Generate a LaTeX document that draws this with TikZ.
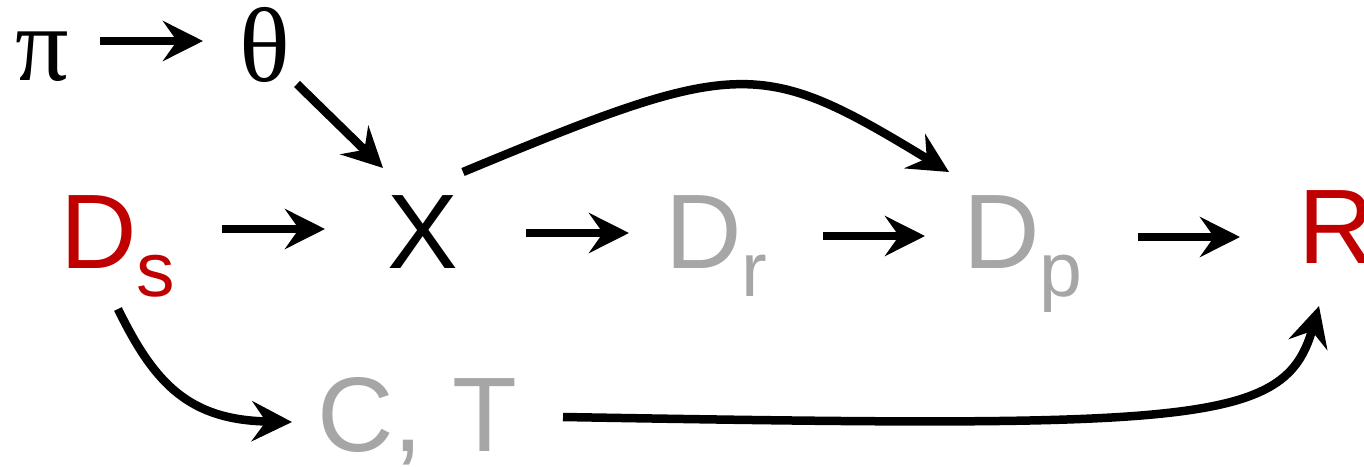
\documentclass[tikz,border=0pt]{standalone}
\usepackage{fontspec}
\setmainfont{Liberation Sans}
\newfontfamily\grkfont{Liberation Serif}
\usetikzlibrary{arrows.meta,calc}
\definecolor{dred}{HTML}{C00000}
\definecolor{lgray}{HTML}{A6A6A6}
\tikzset{
  lbl/.style={inner sep=0pt, outer sep=0pt, anchor=base west, font=\fontsize{106}{110}\selectfont},
  grk/.style={lbl, font=\fontsize{106}{110}\selectfont\grkfont},
  arr/.style={line width=8.5pt, -{Stealth[length=40pt,width=40pt,inset=14pt]}},
}
\newcommand{\subs}[1]{\raisebox{-28pt}{\fontsize{77}{80}\selectfont #1}}
\begin{document}
\begin{tikzpicture}[x=1pt,y=-1pt]
\useasboundingbox (0,0) rectangle (1364,466);
\node[grk] (pi) at (16,80) {π};
\node[grk] (theta) at (239,81) {θ};
\node[lbl, text=dred] (ds) at (60,268) {D\subs{s}};
\node[lbl] (x) at (387,268) {X};
\node[lbl, text=lgray] (dr) at (665,268) {D\subs{r}};
\node[lbl, text=lgray] (dp) at (963,268) {D\subs{p}};
\node[lbl, text=dred] (r) at (1298,263) {R};
\node[lbl, text=lgray] (ct) at (317,451) {C, T};
\draw[arr] ($(pi.base west)+(84,-39)$) -- ($(theta.base west)+(-36,-40)$);
\draw[arr] ($(theta.base west)+(58,3)$) -- ($(x.base west)+(-4,-100)$);
\draw[arr] ($(ds.base west)+(162,-39)$) -- ($(x.base west)+(-62,-39)$);
\draw[arr] ($(x.base west)+(139,-35)$) -- ($(dr.base west)+(-36,-35)$);
\draw[arr] ($(dr.base west)+(158,-32)$) -- ($(dp.base west)+(-38,-32)$);
\draw[arr] ($(dp.base west)+(175,-31)$) -- ($(r.base west)+(-58,-26)$);
\draw[arr] ($(x.base west)+(76,-96)$) .. controls +(277,-115) and +(-189,-115) .. ($(dp.base west)+(-14,-96)$);
\draw[arr] ($(ds.base west)+(58,41)$) .. controls +(37,76) and +(-102,-2) .. ($(ct.base west)+(-25,-29)$);
\draw[arr] ($(ct.base west)+(246,-34)$) .. controls +(637,11) and +(-34,119) .. ($(r.base west)+(21,43)$);
\end{tikzpicture}
\end{document}
